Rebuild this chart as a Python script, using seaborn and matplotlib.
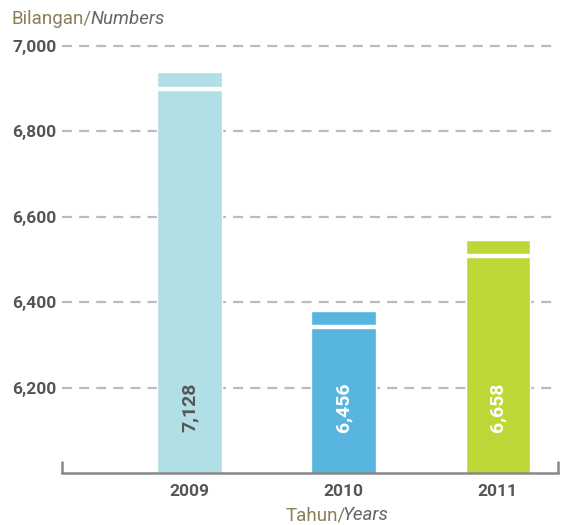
import numpy as np
import pandas as pd
import matplotlib
matplotlib.use("Agg")
import matplotlib.pyplot as plt
import seaborn as sns

years = ["2009", "2010", "2011"]
values = [7128, 6456, 6658]
# bar tops as drawn in the (broken-axis) picture
bar_tops = [6937, 6379, 6546]
bar_colors = ["#B0DFE5", "#57B5DF", "#BFD637"]
label_colors = ["#555555", "#FFFFFF", "#FFFFFF"]
y_ticks = [6200, 6400, 6600, 6800, 7000]


def main():
    sns.set_style("white")
    plt.rcParams["font.family"] = ["Roboto", "DejaVu Sans"]

    df = pd.DataFrame({"year": years, "top": bar_tops, "value": values})

    fig = plt.figure(figsize=(5.63, 5.25), dpi=100)
    ax = fig.add_axes([0.110, 0.099, 0.881, 0.8305])

    for t in y_ticks:
        ax.axhline(t, color="#BBBBBB", lw=1.6, ls=(0, (4.5, 3.2)), zorder=0)

    sns.barplot(data=df, x="year", y="top", hue="year", palette=bar_colors,
                width=0.42, legend=False, ax=ax, zorder=2, saturation=1)

    # white break mark near top of each bar + rotated value label
    for i, p in enumerate(ax.patches):
        x0, w = p.get_x(), p.get_width()
        ax.plot([x0, x0 + w], [bar_tops[i] - 38, bar_tops[i] - 38],
                color="white", lw=3.2, solid_capstyle="butt", zorder=3)
        ax.text(x0 + w / 2, 6153, f"{values[i]:,}", rotation=90,
                ha="center", va="center", color=label_colors[i],
                fontsize=14, fontweight="bold", zorder=4)

    ax.set_ylim(6000, 7020)
    ax.set_xlim(-0.83, 2.39)
    ax.set_yticks(y_ticks)
    ax.set_yticklabels([f"{t:,}" for t in y_ticks])
    ax.tick_params(axis="both", length=0, labelsize=12.5, colors="#555555")
    ax.tick_params(axis="y", pad=4)
    ax.tick_params(axis="x", pad=8)
    for lbl in ax.get_xticklabels() + ax.get_yticklabels():
        lbl.set_fontweight("bold")

    for s in ["top", "right", "left"]:
        ax.spines[s].set_visible(False)
    ax.spines["bottom"].set_color("#888888")
    ax.spines["bottom"].set_linewidth(1.8)
    for xe in [0, 1]:
        ax.plot([xe, xe], [0, 0.028], transform=ax.transAxes, color="#888888",
                lw=1.8, clip_on=False, solid_capstyle="butt")

    ax.set_xlabel("")
    ax.set_ylabel("")

    t1 = fig.text(0.021, 0.963, "Bilangan/", color="#8C7E5A", fontsize=13.5,
                  ha="left", va="center")
    ax.annotate("Numbers", xy=(1, 0), xycoords=t1, xytext=(-1, 0),
                textcoords="offset points", color="#666666",
                fontsize=13.5, style="italic", ha="left", va="bottom",
                annotation_clip=False)

    t2 = fig.text(0.615, 0.019, "Tahun/", color="#8C7E5A", fontsize=13.5,
                  ha="right", va="center")
    ax.annotate("Years", xy=(1, 0), xycoords=t2, xytext=(-2.5, 0),
                textcoords="offset points", color="#666666",
                fontsize=13.5, style="italic", ha="left", va="bottom",
                annotation_clip=False)

    fig.savefig("out.png", dpi=100)


if __name__ == "__main__":
    main()
